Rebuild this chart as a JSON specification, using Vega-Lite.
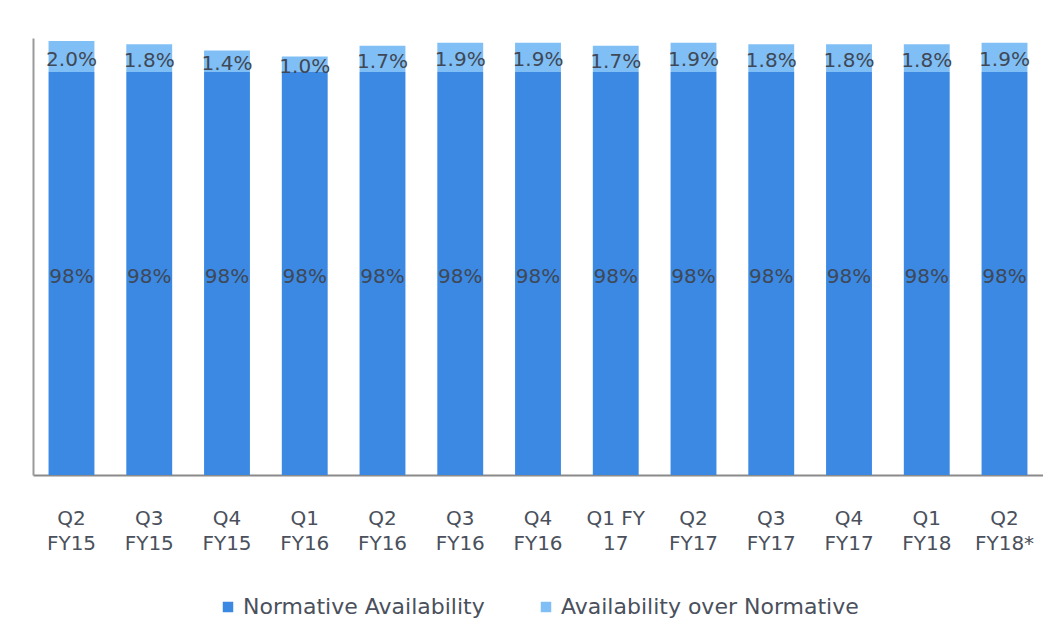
{
  "$schema": "https://vega.github.io/schema/vega-lite/v6.json",
  "width": 1010,
  "height": 437,
  "padding": {"left": 33, "top": 38, "right": 0, "bottom": 0},
  "background": "white",
  "data": {
    "values": [
      {"quarter": "Q2|FY15", "series": "Normative Availability", "ord": 0, "value": 98, "label": "98%"},
      {"quarter": "Q2|FY15", "series": "Availability over Normative", "ord": 1, "value": 2.0, "label": "2.0%"},
      {"quarter": "Q3|FY15", "series": "Normative Availability", "ord": 0, "value": 98, "label": "98%"},
      {"quarter": "Q3|FY15", "series": "Availability over Normative", "ord": 1, "value": 1.8, "label": "1.8%"},
      {"quarter": "Q4|FY15", "series": "Normative Availability", "ord": 0, "value": 98, "label": "98%"},
      {"quarter": "Q4|FY15", "series": "Availability over Normative", "ord": 1, "value": 1.4, "label": "1.4%"},
      {"quarter": "Q1|FY16", "series": "Normative Availability", "ord": 0, "value": 98, "label": "98%"},
      {"quarter": "Q1|FY16", "series": "Availability over Normative", "ord": 1, "value": 1.0, "label": "1.0%"},
      {"quarter": "Q2|FY16", "series": "Normative Availability", "ord": 0, "value": 98, "label": "98%"},
      {"quarter": "Q2|FY16", "series": "Availability over Normative", "ord": 1, "value": 1.7, "label": "1.7%"},
      {"quarter": "Q3|FY16", "series": "Normative Availability", "ord": 0, "value": 98, "label": "98%"},
      {"quarter": "Q3|FY16", "series": "Availability over Normative", "ord": 1, "value": 1.9, "label": "1.9%"},
      {"quarter": "Q4|FY16", "series": "Normative Availability", "ord": 0, "value": 98, "label": "98%"},
      {"quarter": "Q4|FY16", "series": "Availability over Normative", "ord": 1, "value": 1.9, "label": "1.9%"},
      {"quarter": "Q1 FY|17", "series": "Normative Availability", "ord": 0, "value": 98, "label": "98%"},
      {"quarter": "Q1 FY|17", "series": "Availability over Normative", "ord": 1, "value": 1.7, "label": "1.7%"},
      {"quarter": "Q2|FY17", "series": "Normative Availability", "ord": 0, "value": 98, "label": "98%"},
      {"quarter": "Q2|FY17", "series": "Availability over Normative", "ord": 1, "value": 1.9, "label": "1.9%"},
      {"quarter": "Q3|FY17", "series": "Normative Availability", "ord": 0, "value": 98, "label": "98%"},
      {"quarter": "Q3|FY17", "series": "Availability over Normative", "ord": 1, "value": 1.8, "label": "1.8%"},
      {"quarter": "Q4|FY17", "series": "Normative Availability", "ord": 0, "value": 98, "label": "98%"},
      {"quarter": "Q4|FY17", "series": "Availability over Normative", "ord": 1, "value": 1.8, "label": "1.8%"},
      {"quarter": "Q1|FY18", "series": "Normative Availability", "ord": 0, "value": 98, "label": "98%"},
      {"quarter": "Q1|FY18", "series": "Availability over Normative", "ord": 1, "value": 1.8, "label": "1.8%"},
      {"quarter": "Q2|FY18*", "series": "Normative Availability", "ord": 0, "value": 98, "label": "98%"},
      {"quarter": "Q2|FY18*", "series": "Availability over Normative", "ord": 1, "value": 1.9, "label": "1.9%"}
    ]
  },
  "transform": [
    {"stack": "value", "groupby": ["quarter"], "sort": [{"field": "ord", "order": "ascending"}], "as": ["y0", "y1"]},
    {"calculate": "(max(datum.y0, 72) + datum.y1) / 2", "as": "ymid"}
  ],
  "encoding": {
    "x": {
      "field": "quarter",
      "type": "nominal",
      "sort": null,
      "scale": {"paddingInner": 0.41, "paddingOuter": 0.2},
      "axis": {
        "title": null,
        "labelAngle": 0,
        "labelExpr": "split(datum.label, '|')",
        "labelFont": "DejaVu Sans",
        "labelFontSize": 20,
        "labelLineHeight": 25,
        "labelColor": "#4a505c",
        "labelPadding": 33,
        "ticks": false,
        "domainColor": "#8a8a8a",
        "domainWidth": 2
      }
    }
  },
  "layer": [
    {
      "mark": {"type": "bar"},
      "encoding": {
        "y": {
          "field": "y1",
          "type": "quantitative",
          "scale": {"domain": [72, 100.2], "nice": false, "zero": false, "clamp": true},
          "axis": {
            "title": null,
            "labels": false,
            "ticks": false,
            "grid": false,
            "domainColor": "#9a9a9a",
            "domainWidth": 2
          }
        },
        "y2": {"field": "y0"},
        "color": {
          "field": "series",
          "type": "nominal",
          "sort": ["Normative Availability", "Availability over Normative"],
          "scale": {
            "domain": ["Normative Availability", "Availability over Normative"],
            "range": ["#3b89e3", "#80bff5"]
          },
          "legend": {
            "title": null,
            "orient": "none",
            "legendX": 184,
            "legendY": 558,
            "direction": "horizontal",
            "symbolType": "square",
            "symbolSize": 110,
            "symbolStrokeWidth": 0,
            "labelFont": "DejaVu Sans",
            "labelFontSize": 22,
            "labelColor": "#4a505c",
            "columnPadding": 50,
            "labelOffset": 4,
            "labelLimit": 400
          }
        }
      }
    },
    {
      "mark": {"type": "text", "font": "DejaVu Sans", "fontSize": 20, "color": "#3f4856", "baseline": "middle", "align": "center", "dy": 3},
      "encoding": {
        "y": {"field": "ymid", "type": "quantitative"},
        "text": {"field": "label"}
      }
    }
  ],
  "config": {
    "view": {"stroke": null}
  }
}
